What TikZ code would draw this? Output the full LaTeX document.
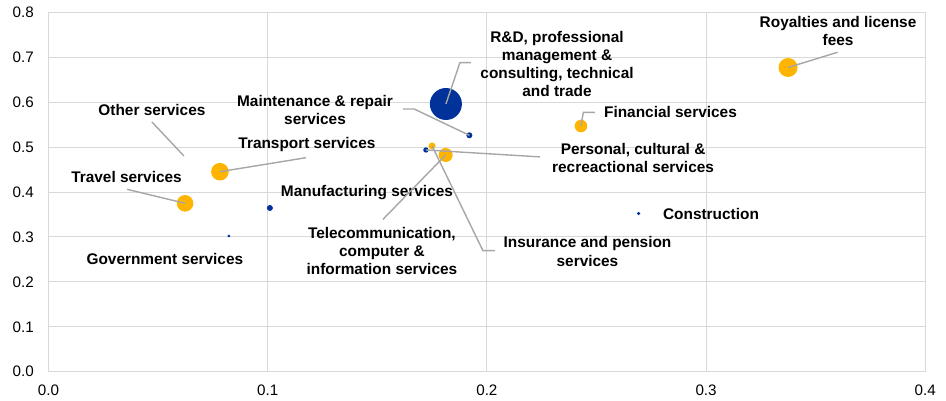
\documentclass[tikz,border=0pt]{standalone}
\usepackage{fontspec}
\setmainfont{Liberation Sans}
\definecolor{ecbblue}{HTML}{003299}
\definecolor{ecborange}{HTML}{FFB400}
\definecolor{gridgray}{HTML}{D9D9D9}
\definecolor{leadgray}{HTML}{A6A6A6}
\tikzset{
  bub/.style={circle, fill, inner sep=0pt},
  lab/.style={font=\fontsize{15.4}{18.2}\selectfont\bfseries, align=center, inner sep=0pt},
  ticklab/.style={font=\fontsize{15.2}{18}\selectfont, inner sep=0pt},
  lead/.style={leadgray, line width=1.4pt},
}
\begin{document}
\begin{tikzpicture}[x=2192pt, y=449pt]
\useasboundingbox (-0.02213,-0.06526) rectangle (0.40945,0.82784);
\draw[gridgray, line width=1pt, xstep=0.1, ystep=0.1] (0,0) grid (0.4001,0.8001);
\node[ticklab, anchor=east] (y0) at (-0.0066,0) {0.0};
\node[ticklab, anchor=east] (y1) at (-0.0066,0.1) {0.1};
\node[ticklab, anchor=east] (y2) at (-0.0066,0.2) {0.2};
\node[ticklab, anchor=east] (y3) at (-0.0066,0.3) {0.3};
\node[ticklab, anchor=east] (y4) at (-0.0066,0.4) {0.4};
\node[ticklab, anchor=east] (y5) at (-0.0066,0.5) {0.5};
\node[ticklab, anchor=east] (y6) at (-0.0066,0.6) {0.6};
\node[ticklab, anchor=east] (y7) at (-0.0066,0.7) {0.7};
\node[ticklab, anchor=east] (y8) at (-0.0066,0.8) {0.8};
\node[ticklab] (x0) at (0,-0.0408) {0.0};
\node[ticklab] (x1) at (0.1,-0.0408) {0.1};
\node[ticklab] (x2) at (0.2,-0.0408) {0.2};
\node[ticklab] (x3) at (0.3,-0.0408) {0.3};
\node[ticklab] (x4) at (0.4,-0.0408) {0.4};
\node[bub, ecborange, minimum size=16.6pt] (pid0) at (0.0623,0.3750){};
\node[bub, ecborange, minimum size=17.6pt] (pid1) at (0.0782,0.4454){};
\node[bub, ecbblue, minimum size=3pt] (pid2) at (0.0823,0.3022){};
\node[bub, ecbblue, minimum size=6pt] (pid3) at (0.1010,0.3646){};
\node[bub, ecbblue, minimum size=32pt] (pid4) at (0.1813,0.5962){};
\node[bub, ecbblue, minimum size=6pt] (pid5) at (0.1920,0.5265){};
\node[bub, ecbblue, minimum size=5.4pt] (pid6) at (0.1722,0.4938){};
\node[bub, ecborange, minimum size=7pt] (pid7) at (0.1750,0.5027){};
\node[bub, ecborange, minimum size=14pt] (pid8) at (0.1812,0.4826){};
\node[bub, ecborange, minimum size=12.6pt] (pid9) at (0.2429,0.5472){};
\node[bub, ecborange, minimum size=19pt] (pid10) at (0.3374,0.6775){};
\node[bub, ecbblue, minimum size=3.6pt] (pid11) at (0.2692,0.3523){};
\node[lab] (lid0) at (0.0356,0.4343) {Travel services};
\node[lab] (lid1) at (0.1179,0.5049) {Transport services};
\node[lab] (lid2) at (0.0531,0.2517) {Government services};
\node[lab] (lid3) at (0.1453,0.3987) {Manufacturing services};
\node[lab] (lid4) at (0.2320,0.6855) {R\&D, professional\\management \&\\consulting, technical\\and trade};
\node[lab] (lid5) at (0.1216,0.5829) {Maintenance \& repair\\services};
\node[lab] (lid6) at (0.2667,0.4759) {Personal, cultural \&\\recreactional services};
\node[lab] (lid7) at (0.2459,0.2677) {Insurance and pension\\services};
\node[lab] (lid8) at (0.1521,0.2688) {Telecommunication,\\computer \&\\information services};
\node[lab, anchor=west] (lid9) at (0.2534,0.5777) {Financial services};
\node[lab] (lid10) at (0.3602,0.7588) {Royalties and license\\fees};
\node[lab, anchor=west] (lid11) at (0.2803,0.3523) {Construction};
\node[lab] (lid12) at (0.0472,0.5829) {Other services};
\coordinate (cid0) at (0.0358,0.4062);
\coordinate (cid1) at (0.1175,0.4766);
\coordinate (cid4a) at (0.1877,0.6882);
\coordinate (cid4b) at (0.1927,0.6882);
\coordinate (cid5a) at (0.1617,0.5851);
\coordinate (cid5b) at (0.1668,0.5851);
\coordinate (cid6) at (0.2242,0.4784);
\coordinate (cid7a) at (0.1982,0.2695);
\coordinate (cid7b) at (0.2036,0.2695);
\coordinate (cid8) at (0.1526,0.3394);
\coordinate (cid9a) at (0.2440,0.5777);
\coordinate (cid9b) at (0.2493,0.5777);
\coordinate (cid10) at (0.3600,0.7114);
\coordinate (cid12a) at (0.0472,0.5561);
\coordinate (cid12b) at (0.0618,0.4804);
\draw[lead](cid0) -- (pid0.center);
\draw[lead](cid1) -- (pid1.center);
\draw[lead](pid4.center) -- (cid4a) -- (cid4b);
\draw[lead](cid5a) -- (cid5b) -- (pid5.center);
\draw[lead](pid6.center) -- (cid6);
\draw[lead](pid7.center) -- (cid7a) -- (cid7b);
\draw[lead](pid8.center) -- (cid8);
\draw[lead](pid9.center) -- (cid9a) -- (cid9b);
\draw[lead](pid10.center) -- (cid10);
\draw[lead](cid12a) -- (cid12b);
\end{tikzpicture}
\end{document}
